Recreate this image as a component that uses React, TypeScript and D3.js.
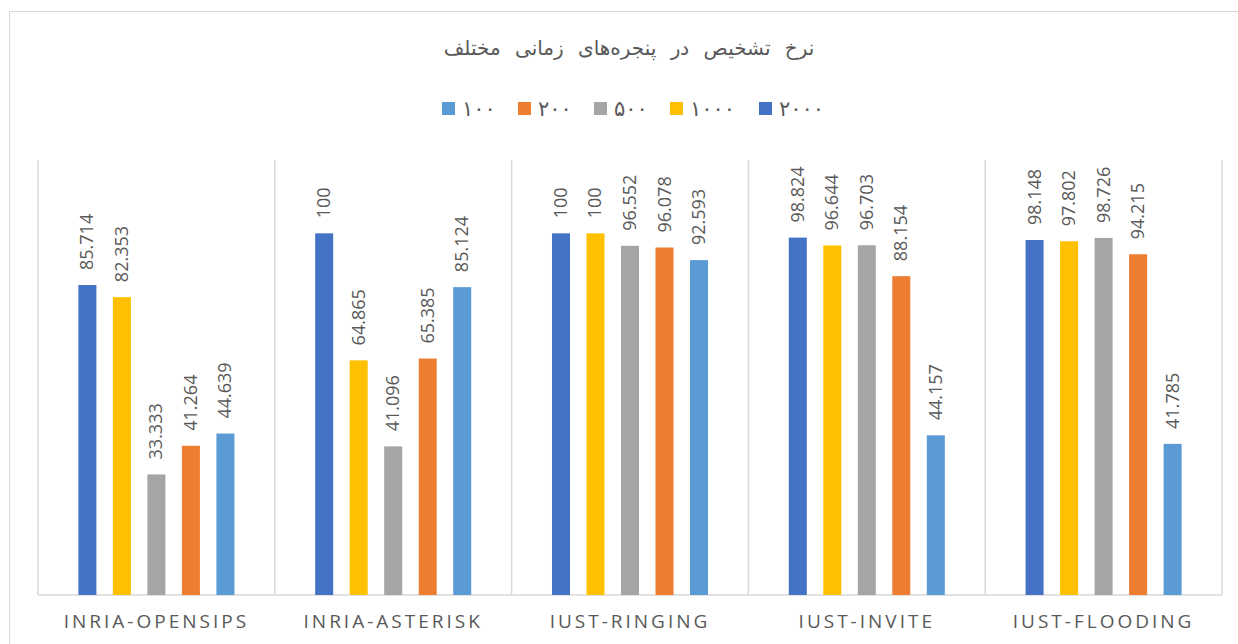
import * as d3 from 'd3';

const CATEGORIES = ['INRIA-OPENSIPS', 'INRIA-ASTERISK', 'IUST-RINGING', 'IUST-INVITE', 'IUST-FLOODING'];

// series in bar order (left to right inside each group)
const SERIES = ['2000', '1000', '500', '200', '100'];
const SERIES_LABELS: Record<string, string> = {
  '2000': '۲۰۰۰', '1000': '۱۰۰۰', '500': '۵۰۰', '200': '۲۰۰', '100': '۱۰۰',
};
const COLORS: Record<string, string> = {
  '2000': '#4472C4', '1000': '#FFC000', '500': '#A5A5A5', '200': '#ED7D31', '100': '#5B9BD5',
};
// legend reads 100 → 2000 from left
const LEGEND_ORDER = ['100', '200', '500', '1000', '2000'];

const W2000 = [85.714, 100, 100, 98.824, 98.148];
const W1000 = [82.353, 64.865, 100, 96.644, 97.802];
const W500 = [33.333, 41.096, 96.552, 96.703, 98.726];
const W200 = [41.264, 65.385, 96.078, 88.154, 94.215];
const W100 = [44.639, 85.124, 92.593, 44.157, 41.785];

const VALUES: Record<string, number[]> = { '2000': W2000, '1000': W1000, '500': W500, '200': W200, '100': W100 };

const TITLE = 'نرخ تشخیص در پنجره‌های زمانی مختلف';

const width = 1238;
const height = 644;
const plot = { left: 38, right: 1222, top: 161, bottom: 595 };
const TEXT = '#595959';
const GRID = '#D9D9D9';

export default function App() {
  const x0 = d3.scaleBand<string>().domain(CATEGORIES).range([plot.left, plot.right]).paddingInner(0).paddingOuter(0);
  const x1 = d3.scaleBand<string>().domain(SERIES).range([0, x0.bandwidth()]).paddingInner(0.478).paddingOuter(1.17);
  const y = d3.scaleLinear().domain([0, 120]).range([plot.bottom, plot.top]);

  const boundaries = CATEGORIES.map(c => x0(c) as number).concat([plot.right]);

  const legendStep = 76;
  const legendStart = 442;

  return (
    <svg width={width} height={height} style={{ position: 'absolute', left: 0, top: 0, background: '#fff' }}>
      <rect x={9.5} y={11.5} width={1260} height={680} fill="#fff" stroke={GRID} />

      <text x={629} y={55} textAnchor="middle" fill={TEXT} fontSize={20}
        fontFamily="'DejaVu Sans', sans-serif" wordSpacing={8} direction="rtl">
        {TITLE}
      </text>

      {LEGEND_ORDER.map((s, i) => {
        const lx = legendStart + i * legendStep + (i >= 4 ? 13 : 0);
        return (
          <g key={s} transform={`translate(${lx},0)`}>
            <rect x={0} y={102} width={13} height={13} fill={COLORS[s]} />
            <text x={20} y={116} fill={TEXT} fontSize={21}
              fontFamily="'DejaVu Sans', sans-serif">{SERIES_LABELS[s]}</text>
          </g>
        );
      })}

      {boundaries.map((bx, i) => (
        <line key={i} x1={bx} x2={bx} y1={plot.top - 1} y2={plot.bottom} stroke={GRID} strokeWidth={1.5} />
      ))}
      <line x1={plot.left} x2={plot.right} y1={plot.bottom} y2={plot.bottom} stroke={GRID} strokeWidth={1.5} />

      {CATEGORIES.map((c, ci) => (
        <g key={c} transform={`translate(${x0(c)},0)`}>
          {SERIES.map(s => {
            const v = VALUES[s][ci];
            const bx = x1(s) as number;
            const cx = bx + x1.bandwidth() / 2;
            const ty = y(v);
            return (
              <g key={s}>
                <rect x={bx} y={ty} width={x1.bandwidth()} height={y(0) - ty} fill={COLORS[s]} />
                <text transform={`translate(${cx + 6},${ty - 15}) rotate(-90)`} fill={TEXT} fontSize={18}
                  fontFamily="'Open Sans', sans-serif">{String(v)}</text>
              </g>
            );
          })}
          <text x={x0.bandwidth() / 2} y={628} textAnchor="middle" fill={TEXT} fontSize={19}
            letterSpacing={3} fontFamily="'Open Sans', sans-serif">{c}</text>
        </g>
      ))}
    </svg>
  );
}
